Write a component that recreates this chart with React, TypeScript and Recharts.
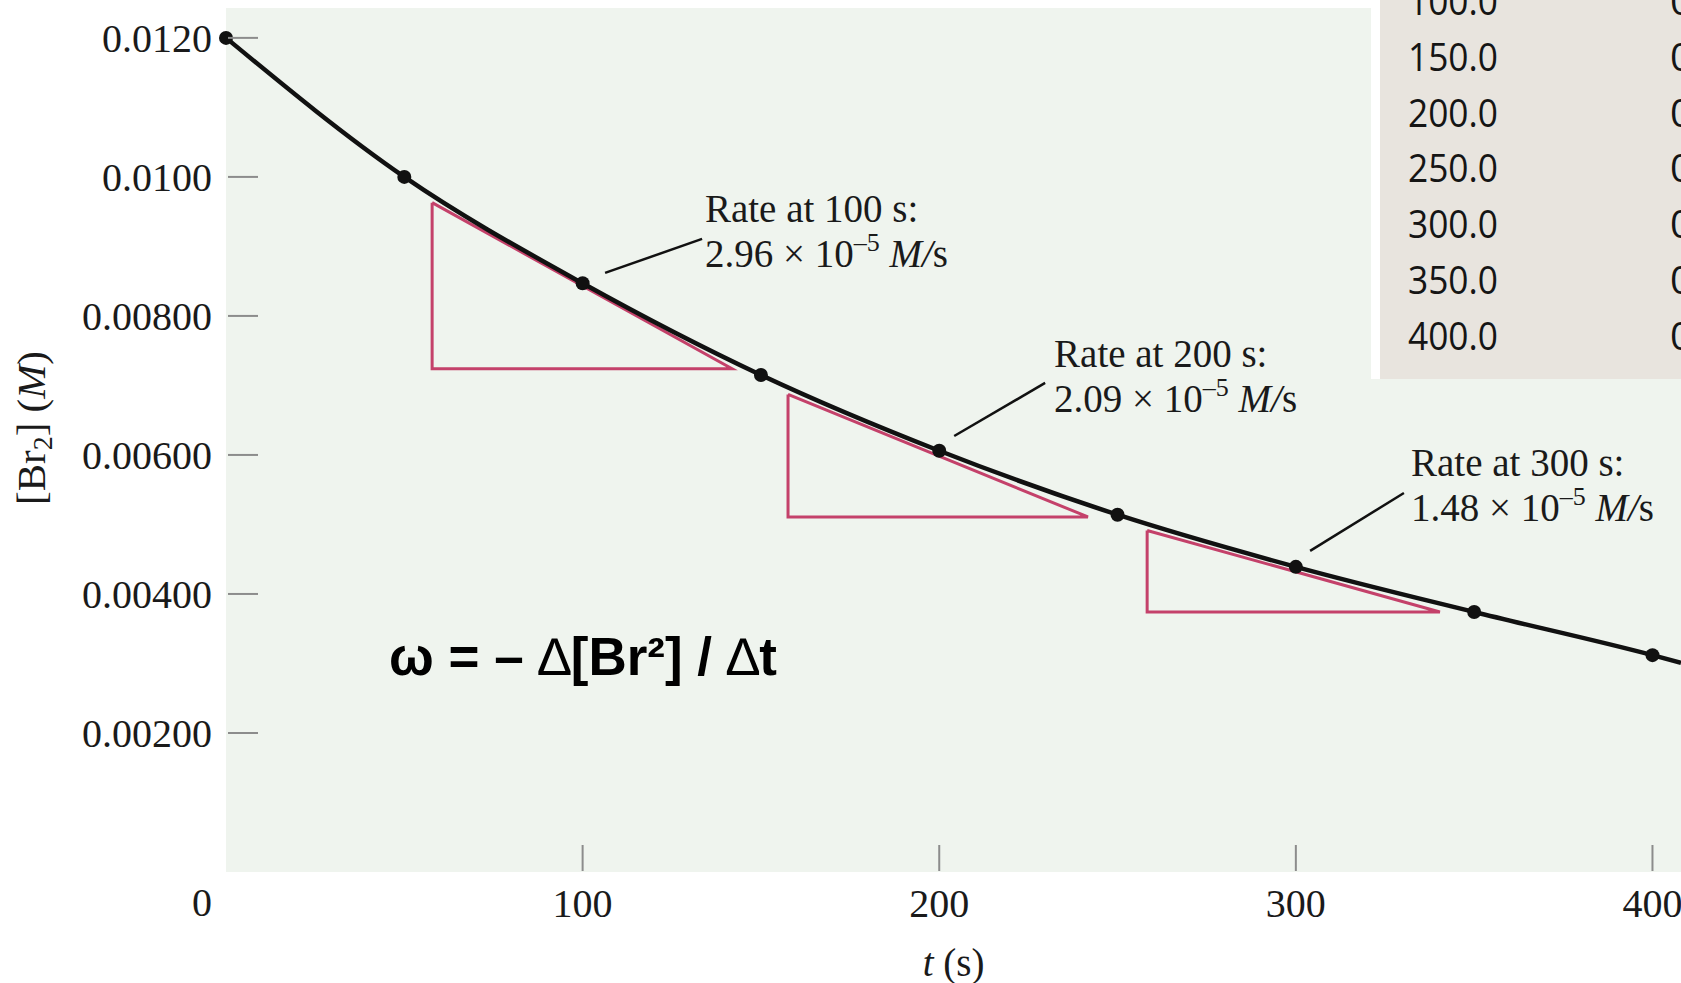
import React from 'react';
import {
  ComposedChart,
  Line,
  XAxis,
  YAxis,
  CartesianGrid,
  ReferenceLine,
  ReferenceDot,
} from 'recharts';

// ---- data ----
const times = [0, 50, 100, 150, 200, 250, 300, 350, 400];
const concentrations = [0.012, 0.01, 0.00847, 0.00715, 0.00606, 0.00514, 0.00439, 0.00374, 0.00312];
const curveEndTime = 408;
const curveEndConc = 0.00301;

const xTicks = [0, 100, 200, 300, 400];
const xTickLabels = ['0', '100', '200', '300', '400'];
const yTicks = [0.002, 0.004, 0.006, 0.008, 0.01, 0.012];
const yTickLabels = ['0.00200', '0.00400', '0.00600', '0.00800', '0.0100', '0.0120'];

// tangent triangles (time of left/right corners, concentration of top/bottom corners)
const triangleLeft = [57.8, 157.6, 258.3];
const triangleRight = [141.9, 241.7, 340.4];
const triangleTop = [0.00963, 0.006871, 0.004914];
const triangleBottom = [0.00724, 0.005108, 0.003741];

const rateTitles = ['Rate at 100 s:', 'Rate at 200 s:', 'Rate at 300 s:'];
const rateValues = ['2.96', '2.09', '1.48'];
const rateLabelT = [134.3, 232.2, 332.3];
const rateLabelC = [0.009353, 0.007266, 0.005698];
const leaderFromT = [106.3, 204.2, 304.0];
const leaderFromC = [0.008619, 0.006273, 0.004619];
const leaderToT = [133.5, 229.7, 330.3];
const leaderToC = [0.009108, 0.007036, 0.005453];

const formulaT = 45.7;
const formulaC = 0.002835;

const tableTimes = ['100.0', '150.0', '200.0', '250.0', '300.0', '350.0', '400.0'];
const tableConc = ['0.00846', '0.00710', '0.00596', '0.00500', '0.00420', '0.00353', '0.00296'];

// ---- derived ----
const curveData = [
  ...times.map((t, i) => ({ t, c: concentrations[i], marker: true })),
  { t: curveEndTime, c: curveEndConc, marker: false },
];
const triangles = triangleLeft.map((l, i) => [
  { t: l, c: triangleTop[i] },
  { t: l, c: triangleBottom[i] },
  { t: triangleRight[i], c: triangleBottom[i] },
  { t: l, c: triangleTop[i] },
]);

const SERIF = '"Liberation Serif", "Times New Roman", serif';
const SANS = '"Liberation Sans", Arial, sans-serif';
const TEXT = '#1a1a1a';
const TRI = '#c4416a';

function YTick(props: any) {
  const { x, y, payload } = props;
  const idx = yTicks.findIndex((v) => Math.abs(v - payload.value) < 1e-9);
  return (
    <g>
      <line x1={x + 2} x2={x + 32} y1={y} y2={y} stroke="#8c8c8c" strokeWidth={2} />
      <text x={x - 14} y={y + 14} textAnchor="end" fontFamily={SERIF} fontSize={40} fill={TEXT}>
        {idx >= 0 ? yTickLabels[idx] : ''}
      </text>
    </g>
  );
}

function XTick(props: any) {
  const { x, y, payload } = props;
  const idx = xTicks.indexOf(payload.value);
  if (payload.value === 0) {
    return (
      <text x={x - 24} y={y + 44} textAnchor="middle" fontFamily={SERIF} fontSize={40} fill={TEXT}>
        {xTickLabels[idx]}
      </text>
    );
  }
  return (
    <g>
      <line x1={x} x2={x} y1={y - 27} y2={y - 1} stroke="#8c8c8c" strokeWidth={2} />
      <text x={x} y={y + 45} textAnchor="middle" fontFamily={SERIF} fontSize={40} fill={TEXT}>
        {xTickLabels[idx]}
      </text>
    </g>
  );
}

function renderDot(p: any) {
  const key = `dot-${p.index}`;
  if (!p.payload || !p.payload.marker) return <g key={key} />;
  return <circle key={key} cx={p.cx} cy={p.cy} r={7} fill="#111" />;
}

function rateLabel(i: number) {
  return (p: any) => {
    const vb = p.viewBox || {};
    const x = vb.x;
    const y = vb.y;
    return (
      <text fontFamily={SERIF} fontSize={39} fill={TEXT}>
        <tspan x={x} y={y}>{rateTitles[i]}</tspan>
        <tspan x={x} y={y + 45}>{`${rateValues[i]} × 10`}</tspan>
        <tspan dy={-16} fontSize={26}>–5</tspan>
        <tspan dy={16} fontStyle="italic">{' M/'}</tspan>
        <tspan>s</tspan>
      </text>
    );
  };
}

function formulaLabel(p: any) {
  const vb = p.viewBox || {};
  return (
    <text x={vb.x} y={vb.y} fontFamily={SANS} fontWeight="bold" fontSize={53} fill="#000">
      {'ω = – '}
      <tspan fontWeight="normal">∆</tspan>
      <tspan>{'[Br²] / '}</tspan>
      <tspan fontWeight="normal">∆</tspan>
      <tspan>t</tspan>
    </text>
  );
}

function yTitle(p: any) {
  const vb = p.viewBox || { x: 0, y: 8, width: 226, height: 864 };
  const cx = vb.x + 45;
  const cy = vb.y + vb.height / 2 - 12;
  return (
    <text
      x={cx}
      y={cy}
      transform={`rotate(-90, ${cx}, ${cy})`}
      textAnchor="middle"
      fontFamily={SERIF}
      fontSize={41}
      fill={TEXT}
    >
      <tspan>[Br</tspan>
      <tspan dy={7} fontSize={28}>2</tspan>
      <tspan dy={-7}>] (</tspan>
      <tspan fontStyle="italic">M</tspan>
      <tspan>)</tspan>
    </text>
  );
}

function xTitle(p: any) {
  const vb = p.viewBox || { x: 226, y: 872, width: 1455, height: 111 };
  const cx = vb.x + vb.width / 2;
  return (
    <text x={cx} y={vb.y + 104} textAnchor="middle" fontFamily={SERIF} fontSize={39} fill={TEXT}>
      <tspan fontStyle="italic">t</tspan>
      <tspan>{' (s)'}</tspan>
    </text>
  );
}

export default function App() {
  return (
    <div
      style={{
        position: 'absolute',
        left: 0,
        top: 0,
        width: 1681,
        height: 983,
        overflow: 'hidden',
        background: '#ffffff',
      }}
    >
      <ComposedChart width={1681} height={983} margin={{ top: 8, right: 0, bottom: 0, left: 0 }}>
        <CartesianGrid fill="#eff4ee" horizontal={false} vertical={false} strokeOpacity={0} />
        <XAxis
          dataKey="t"
          type="number"
          domain={[0, 408]}
          ticks={xTicks}
          interval={0}
          height={111}
          axisLine={false}
          tickLine={false}
          tickSize={0}
          tickMargin={0}
          tick={<XTick />}
          label={{ content: xTitle }}
        />
        <YAxis
          dataKey="c"
          type="number"
          domain={[0, 0.01243]}
          ticks={yTicks}
          interval={0}
          width={226}
          axisLine={false}
          tickLine={false}
          tickSize={0}
          tickMargin={0}
          tick={<YTick />}
          label={{ content: yTitle }}
        />
        {triangles.map((tri, i) => (
          <Line
            key={`tri-${i}`}
            data={tri}
            dataKey="c"
            type="linear"
            stroke={TRI}
            strokeWidth={3}
            dot={false}
            activeDot={false}
            isAnimationActive={false}
          />
        ))}
        <Line
          data={curveData}
          dataKey="c"
          type="monotone"
          stroke="#111"
          strokeWidth={4.5}
          dot={renderDot}
          activeDot={false}
          isAnimationActive={false}
        />
        {leaderFromT.map((t, i) => (
          <ReferenceLine
            key={`lead-${i}`}
            segment={[
              { x: t, y: leaderFromC[i] },
              { x: leaderToT[i], y: leaderToC[i] },
            ]}
            stroke="#111"
            strokeWidth={2.5}
            ifOverflow="visible"
          />
        ))}
        {rateLabelT.map((t, i) => (
          <ReferenceDot
            key={`lab-${i}`}
            x={t}
            y={rateLabelC[i]}
            r={0}
            fill="none"
            stroke="none"
            label={{ content: rateLabel(i) }}
          />
        ))}
        <ReferenceDot
          x={formulaT}
          y={formulaC}
          r={0}
          fill="none"
          stroke="none"
          label={{ content: formulaLabel }}
        />
      </ComposedChart>
      <svg
        width={310}
        height={379}
        style={{ position: 'absolute', left: 1371, top: 0 }}
      >
        <rect x={0} y={0} width={9} height={379} fill="#ffffff" />
        <rect x={9} y={0} width={301} height={379} fill="#e8e4de" />
        {tableTimes.map((s, i) => (
          <text
            key={`tt-${i}`}
            x={37}
            y={15 + i * 55.8}
            fontFamily='"Open Sans", "Noto Sans", sans-serif'
            fontSize={39}
            textLength={90}
            lengthAdjust="spacingAndGlyphs"
            fill="#151515"
          >
            {s}
          </text>
        ))}
        {tableConc.map((s, i) => (
          <text
            key={`tc-${i}`}
            x={299}
            y={15 + i * 55.8}
            fontFamily='"Open Sans", "Noto Sans", sans-serif'
            fontSize={39}
            fill="#151515"
          >
            {s}
          </text>
        ))}
      </svg>
    </div>
  );
}
